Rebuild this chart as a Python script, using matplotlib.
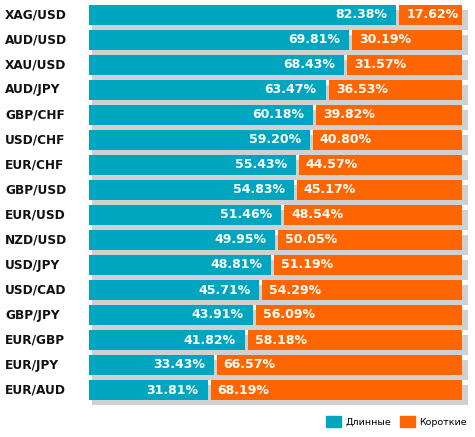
import matplotlib.pyplot as plt
from matplotlib.patches import Patch

# Данные
pairs = ['XAG/USD', 'AUD/USD', 'XAU/USD', 'AUD/JPY', 'GBP/CHF', 'USD/CHF', 'EUR/CHF', 'GBP/USD',
         'EUR/USD', 'NZD/USD', 'USD/JPY', 'USD/CAD', 'GBP/JPY', 'EUR/GBP', 'EUR/JPY', 'EUR/AUD']
long_pct = [82.38, 69.81, 68.43, 63.47, 60.18, 59.20, 55.43, 54.83,
            51.46, 49.95, 48.81, 45.71, 43.91, 41.82, 33.43, 31.81]
short_pct = [17.62, 30.19, 31.57, 36.53, 39.82, 40.80, 44.57, 45.17,
             48.54, 50.05, 51.19, 54.29, 56.09, 58.18, 66.57, 68.19]

teal = '#00a6c0'
orange = '#ff6600'
shadow = '#d0d0d0'

W, H = 475, 437
fig = plt.figure(figsize=(W / 100, H / 100), dpi=100)
ax = fig.add_axes([89 / W, (H - 402.5) / H, 373 / W, 400 / H])

y = list(range(len(pairs)))
totals = [a + b for a, b in zip(long_pct, short_pct)]
px = 100 / 373  # un pixel en unidades de datos

# sombra gris detrás de cada barra
ax.barh([i + 0.2 for i in y], [t + 3 * px for t in totals], left=3 * px, height=0.8,
        color=shadow, clip_on=False, zorder=1)
# barras largas y cortas con hueco blanco
ax.barh(y, long_pct, height=0.8, color=teal, zorder=2)
ax.barh(y, [s - 3 * px for s in short_pct], left=[l + 3 * px for l in long_pct],
        height=0.8, color=orange, zorder=2, clip_on=False)

for i in y:
    ax.text(long_pct[i] - 9 * px, i, f'{long_pct[i]:.2f}%', color='white', fontweight='bold',
            fontsize=9, ha='right', va='center', zorder=3)
    ax.text(long_pct[i] + 10 * px, i, f'{short_pct[i]:.2f}%', color='white', fontweight='bold',
            fontsize=9, ha='left', va='center', zorder=3)
    ax.text(-84 * px, i, pairs[i], color='#111111', fontweight='bold', fontsize=8.7,
            ha='left', va='center')

ax.set_xlim(0, 100)
ax.set_ylim(len(pairs) - 0.5, -0.5)
ax.axis('off')

handles = [Patch(color=teal, label='Длинные'), Patch(color=orange, label='Короткие')]
fig.legend(handles=handles, loc='lower right', bbox_to_anchor=(0.997, 0.008), ncol=2,
           frameon=False, fontsize=6.8, handlelength=1.5, handleheight=1.4,
           handletextpad=0.5, columnspacing=1.0, borderaxespad=0.3)

fig.savefig('out.png', dpi=100)
